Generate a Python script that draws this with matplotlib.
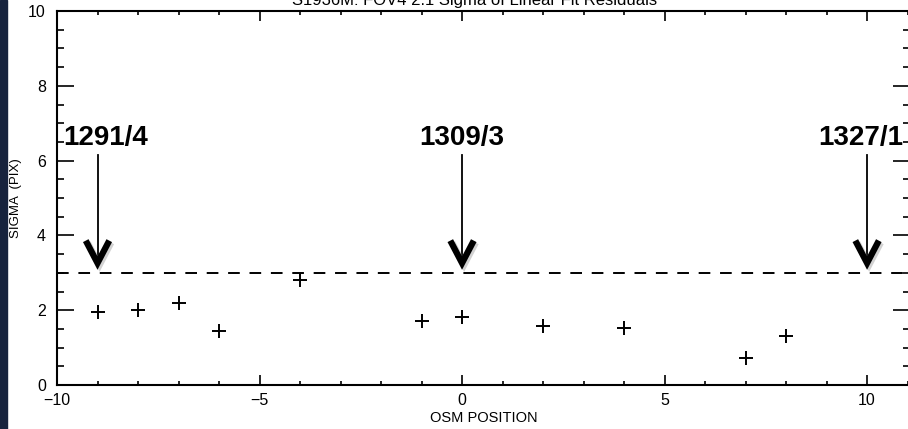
import numpy as np
import matplotlib.pyplot as plt
import matplotlib.patheffects as pe
from matplotlib.patches import Rectangle
from matplotlib.ticker import MultipleLocator

plt.rcParams['font.family'] = ['Liberation Sans', 'DejaVu Sans']

# sigma of the linear fit residuals per OSM position
osmPos = [-9, -8, -7, -6, -4, -1, 0, 2, 4, 7, 8]
sigma  = [1.94, 2.00, 2.19, 1.45, 2.81, 1.72, 1.81, 1.58, 1.53, 0.72, 1.30]
sigLim = 3.0

# marked positions and their run labels
mrkPos = [-9, 0, 10]
mrkLbl = ["1291/4", "1309/3", "1327/1"]
lblOff = [0.2, 0.0, -0.15]
arrTop = 6.15
arrTip = 3.26

fig = plt.figure(figsize=(9.08, 4.29), dpi=100)
fig.patches.append(Rectangle((0, 0), 7/908, 1, transform=fig.transFigure,
                             color="#17233d", zorder=0))
ax = fig.add_axes([57/908, 44/429, 853/908, 374/429])

ax.plot(osmPos, sigma, "+", color="black", markersize=10, mew=1.4)
ax.axhline(sigLim, color="black", lw=1.4, dashes=(6, 5))

shadow = [pe.SimpleLineShadow(offset=(1.5, -1.5), alpha=0.35, shadow_color="gray"), pe.Normal()]
for xp, lbl, off in zip(mrkPos, mrkLbl, lblOff):
  ax.plot([xp, xp], [arrTop, arrTip + 0.1], color="black", lw=1.3)
  ax.plot([xp - 0.29, xp, xp + 0.29], [arrTip + 0.6, arrTip, arrTip + 0.6],
          color="black", lw=4.5, solid_joinstyle="miter", solid_capstyle="butt",
          path_effects=shadow)
  ax.text(xp + off, 6.26, lbl, ha="center", va="bottom", fontsize=20, fontweight="bold")

ax.set_xlim(-10, 11.06)
ax.set_ylim(0, 10)
ax.xaxis.set_major_locator(MultipleLocator(5))
ax.xaxis.set_minor_locator(MultipleLocator(1))
ax.yaxis.set_major_locator(MultipleLocator(2))
ax.yaxis.set_minor_locator(MultipleLocator(0.5))
ax.tick_params(direction="in", top=True, right=True, which="both", width=1.2, labelsize=11.5)
ax.tick_params(axis="x", which="major", length=7, pad=6)
ax.tick_params(axis="x", which="minor", length=3)
ax.tick_params(axis="y", which="major", length=12, pad=8)
ax.tick_params(axis="y", which="minor", length=5)
for sp in ax.spines.values():
  sp.set_linewidth(1.5)

ax.set_xlabel("OSM POSITION", fontsize=10.5, labelpad=2)
ax.set_ylabel("SIGMA  (PIX)", fontsize=9.5)
ax.yaxis.set_label_coords(-0.041, 0.5)
fig.text(475/908, 1.0, "S1936M: FOV4 2.1 Sigma of Linear Fit Residuals",
         ha="center", va="center", fontsize=12)

fig.savefig("out.png", dpi=100)
